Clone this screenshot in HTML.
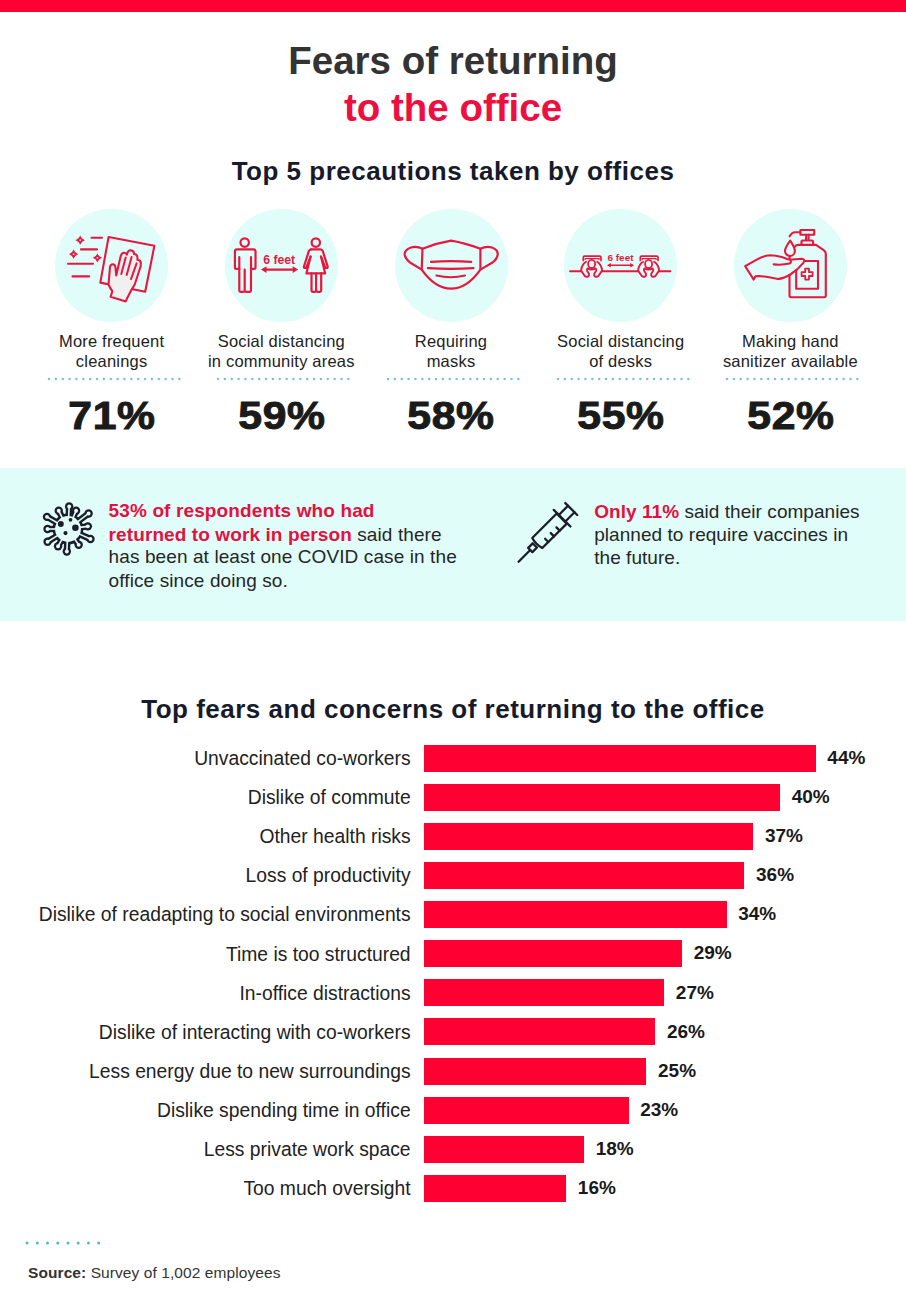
<!DOCTYPE html>
<html><head><meta charset="utf-8"><style>
html,body{margin:0;padding:0;}
body{width:906px;height:1308px;position:relative;overflow:hidden;background:#fff;font-family:"Liberation Sans",sans-serif;}
.t{position:absolute;white-space:nowrap;}
.circ{position:absolute;width:113px;height:113px;border-radius:50%;background:#e0fdf9;}
</style></head><body>
<div style="position:absolute;left:0;top:0;width:906px;height:12px;background:#ff0033"></div>
<div class="t" style="top:38.06px;font-size:38.5px;line-height:46px;font-weight:700;color:#333333;left:3.00px;width:900px;text-align:center;">Fears of returning</div>
<div class="t" style="top:85.16px;font-size:38.5px;line-height:46px;font-weight:700;color:#ec0f3f;left:3.00px;width:900px;text-align:center;">to the office</div>
<div class="t" style="top:155.69px;font-size:26px;line-height:31px;font-weight:700;color:#161b2b;letter-spacing:0.5px;left:3.00px;width:900px;text-align:center;">Top 5 precautions taken by offices</div>
<div class="circ" style="left:55.10px;top:209.2px"></div>
<svg style="position:absolute;left:55.10px;top:209.20px;overflow:visible" width="113" height="113" viewBox="0 0 113 113" ><g fill="none" stroke="#e8173f" stroke-width="2.1" stroke-linecap="round" stroke-linejoin="round"><path d="M36.5,28.8 H47 M26,40.4 H42 M13,54.8 H38 M17.5,67.4 H34.2"/><path d="M53.6,28 L99.4,36.8 L90.2,82.8 L45.3,73.6 Z"/></g><path fill="#e8173f" d="M25.2,26.6 Q26.3,30.099999999999998 29.799999999999997,31.2 Q26.3,32.3 25.2,35.8 Q24.099999999999998,32.3 20.6,31.2 Q24.099999999999998,30.099999999999998 25.2,26.6 Z M18.6,40.6 Q19.700000000000003,44.1 23.200000000000003,45.2 Q19.700000000000003,46.300000000000004 18.6,49.800000000000004 Q17.5,46.300000000000004 14.000000000000002,45.2 Q17.5,44.1 18.6,40.6 Z M42.4,44.199999999999996 Q43.5,47.699999999999996 47.0,48.8 Q43.5,49.9 42.4,53.4 Q41.3,49.9 37.8,48.8 Q41.3,47.699999999999996 42.4,44.199999999999996 Z"/><g fill="#f2f2f2"><circle cx="25.2" cy="31.2" r="0.9"/><circle cx="18.6" cy="45.2" r="0.9"/><circle cx="42.4" cy="48.8" r="0.9"/></g><path d="M55.6,87.7 L57.3,82.2 Q55,79 53.5,75.5 L55,58 Q55.5,55.2 57.8,55.2 Q60,55.3 60.4,58 L61.2,66.5 L65.6,47.5 Q66.6,43.6 69.3,43.8 Q71.3,44 71.8,45.8 Q72.8,41.3 75.8,41.3 Q79,41.5 79,45 Q82.4,45.2 82.6,49.5 L82.4,50.8 Q85.8,51 85.9,54.5 L85.6,57.5 L79.7,75.5 Q78,78.5 76.5,80.8 L72.5,88.5 L70.7,92.4 Z" fill="#f0f0f0" stroke="#e8173f" stroke-width="2.1" stroke-linejoin="round"/><path d="M66.3,65.1 L70.7,48.4 M71.7,66.1 L76.6,47.9 M76,70.1 L81.6,54.4" stroke="#e8173f" stroke-width="2" stroke-linecap="round" fill="none"/></svg>
<div class="t" style="top:331.38px;font-size:16.5px;line-height:20px;font-weight:400;color:#222;letter-spacing:0.2px;left:-338.40px;width:900px;text-align:center;">More frequent</div>
<div class="t" style="top:351.18px;font-size:16.5px;line-height:20px;font-weight:400;color:#222;letter-spacing:0.2px;left:-338.40px;width:900px;text-align:center;">cleanings</div>
<svg style="position:absolute;left:46.60px;top:377.2px" width="135" height="4" fill="#74c6d4"><circle cx="2.00" cy="2" r="1.25"/><circle cx="8.86" cy="2" r="1.25"/><circle cx="15.72" cy="2" r="1.25"/><circle cx="22.58" cy="2" r="1.25"/><circle cx="29.44" cy="2" r="1.25"/><circle cx="36.30" cy="2" r="1.25"/><circle cx="43.16" cy="2" r="1.25"/><circle cx="50.02" cy="2" r="1.25"/><circle cx="56.88" cy="2" r="1.25"/><circle cx="63.74" cy="2" r="1.25"/><circle cx="70.60" cy="2" r="1.25"/><circle cx="77.46" cy="2" r="1.25"/><circle cx="84.32" cy="2" r="1.25"/><circle cx="91.18" cy="2" r="1.25"/><circle cx="98.04" cy="2" r="1.25"/><circle cx="104.90" cy="2" r="1.25"/><circle cx="111.76" cy="2" r="1.25"/><circle cx="118.62" cy="2" r="1.25"/><circle cx="125.48" cy="2" r="1.25"/><circle cx="132.34" cy="2" r="1.25"/></svg>
<div class="t" style="top:392.31px;font-size:39.5px;line-height:47px;font-weight:700;color:#1a1a1a;letter-spacing:0.6px;left:-338.10px;width:900px;text-align:center;-webkit-text-stroke:1px #1a1a1a;transform:scaleX(1.08);transform-origin:450px 0;">71%</div>
<div class="circ" style="left:224.80px;top:209.2px"></div>
<svg style="position:absolute;left:224.80px;top:209.20px;overflow:visible" width="113" height="113" viewBox="0 0 113 113" ><g fill="none" stroke="#e8173f" stroke-width="2.2" stroke-linecap="round" stroke-linejoin="round"><circle cx="19.7" cy="33.6" r="4.2"/><path d="M14.3,48 V81.6 Q14.3,82.8 15.5,82.8 H18.5 Q19.7,82.8 19.7,81.6 V60.5 M19.7,60.5 V81.6 Q19.7,82.8 20.9,82.8 H24.8 Q26,82.8 26,81.6 V48"/><path d="M14.3,59.9 H11.3 Q9.9,59.9 9.9,58.5 V42.6 Q9.9,40.3 12.2,40.3 H28.2 Q30.5,40.3 30.5,42.6 V58.5 Q30.5,59.9 29.1,59.9 H26"/><circle cx="90.8" cy="33.6" r="4.2"/><path d="M86.3,40.3 H95.3 Q97.2,40.3 97.8,42.2 L102.6,57.4 Q103,59 101.6,59 H100.4 L96,47.6"/><path d="M86.3,40.3 Q84.4,40.3 83.8,42.2 L79,57.4 Q78.6,59 80,59 H81.2 L85.6,47.6"/><path d="M85.6,47.6 L81.4,64.4 H100.2 L96,47.6"/><path d="M86.5,64.4 V81.6 Q86.5,82.8 87.7,82.8 H89.9 Q91.1,82.8 91.1,81.6 V64.4 M91.1,64.4 V81.6 Q91.1,82.8 92.3,82.8 H95 Q96.2,82.8 96.2,81.6 V64.4"/><path d="M39,60.6 H70.2"/></g><path fill="#e8173f" d="M36,60.6 L41.5,57.3 L41.5,63.9 Z M73.2,60.6 L67.7,57.3 L67.7,63.9 Z"/><text x="54.2" y="54.8" text-anchor="middle" font-family="Liberation Sans" font-weight="700" font-size="12.2" fill="#e8173f" textLength="32" lengthAdjust="spacingAndGlyphs">6 feet</text></svg>
<div class="t" style="top:331.38px;font-size:16.5px;line-height:20px;font-weight:400;color:#222;letter-spacing:0.2px;left:-168.70px;width:900px;text-align:center;">Social distancing</div>
<div class="t" style="top:351.18px;font-size:16.5px;line-height:20px;font-weight:400;color:#222;letter-spacing:0.2px;left:-168.70px;width:900px;text-align:center;">in community areas</div>
<svg style="position:absolute;left:216.30px;top:377.2px" width="135" height="4" fill="#74c6d4"><circle cx="2.00" cy="2" r="1.25"/><circle cx="8.86" cy="2" r="1.25"/><circle cx="15.72" cy="2" r="1.25"/><circle cx="22.58" cy="2" r="1.25"/><circle cx="29.44" cy="2" r="1.25"/><circle cx="36.30" cy="2" r="1.25"/><circle cx="43.16" cy="2" r="1.25"/><circle cx="50.02" cy="2" r="1.25"/><circle cx="56.88" cy="2" r="1.25"/><circle cx="63.74" cy="2" r="1.25"/><circle cx="70.60" cy="2" r="1.25"/><circle cx="77.46" cy="2" r="1.25"/><circle cx="84.32" cy="2" r="1.25"/><circle cx="91.18" cy="2" r="1.25"/><circle cx="98.04" cy="2" r="1.25"/><circle cx="104.90" cy="2" r="1.25"/><circle cx="111.76" cy="2" r="1.25"/><circle cx="118.62" cy="2" r="1.25"/><circle cx="125.48" cy="2" r="1.25"/><circle cx="132.34" cy="2" r="1.25"/></svg>
<div class="t" style="top:392.31px;font-size:39.5px;line-height:47px;font-weight:700;color:#1a1a1a;letter-spacing:0.6px;left:-168.40px;width:900px;text-align:center;-webkit-text-stroke:1px #1a1a1a;transform:scaleX(1.08);transform-origin:450px 0;">59%</div>
<div class="circ" style="left:394.50px;top:209.2px"></div>
<svg style="position:absolute;left:394.50px;top:209.20px;overflow:visible" width="113" height="113" viewBox="0 0 113 113" ><g fill="none" stroke="#e8173f" stroke-width="2.2" stroke-linecap="round" stroke-linejoin="round"><path d="M27.5,39.8 Q42,34 56.1,31.7 Q70,34 85.4,39.8 V60.6 Q72,79.6 56.1,79.6 Q40,79.6 26.7,60.6 Z"/><path d="M27.5,39.8 Q22,37 16,38.5 Q9,41 9.7,46 Q10.5,50 15,53.5 L26.7,60.6"/><path d="M85.4,39.8 Q91,37 97,38.5 Q103.5,41 102.6,46 Q102,50 97.5,53.5 L85.4,60.6"/><path d="M36,52.9 Q56,51.5 76.2,52.9 M32.9,59.1 Q56,60.5 78.5,59.1 M41.4,66.5 Q56,70 70,66.5"/></g></svg>
<div class="t" style="top:331.38px;font-size:16.5px;line-height:20px;font-weight:400;color:#222;letter-spacing:0.2px;left:1.00px;width:900px;text-align:center;">Requiring</div>
<div class="t" style="top:351.18px;font-size:16.5px;line-height:20px;font-weight:400;color:#222;letter-spacing:0.2px;left:1.00px;width:900px;text-align:center;">masks</div>
<svg style="position:absolute;left:386.00px;top:377.2px" width="135" height="4" fill="#74c6d4"><circle cx="2.00" cy="2" r="1.25"/><circle cx="8.86" cy="2" r="1.25"/><circle cx="15.72" cy="2" r="1.25"/><circle cx="22.58" cy="2" r="1.25"/><circle cx="29.44" cy="2" r="1.25"/><circle cx="36.30" cy="2" r="1.25"/><circle cx="43.16" cy="2" r="1.25"/><circle cx="50.02" cy="2" r="1.25"/><circle cx="56.88" cy="2" r="1.25"/><circle cx="63.74" cy="2" r="1.25"/><circle cx="70.60" cy="2" r="1.25"/><circle cx="77.46" cy="2" r="1.25"/><circle cx="84.32" cy="2" r="1.25"/><circle cx="91.18" cy="2" r="1.25"/><circle cx="98.04" cy="2" r="1.25"/><circle cx="104.90" cy="2" r="1.25"/><circle cx="111.76" cy="2" r="1.25"/><circle cx="118.62" cy="2" r="1.25"/><circle cx="125.48" cy="2" r="1.25"/><circle cx="132.34" cy="2" r="1.25"/></svg>
<div class="t" style="top:392.31px;font-size:39.5px;line-height:47px;font-weight:700;color:#1a1a1a;letter-spacing:0.6px;left:1.30px;width:900px;text-align:center;-webkit-text-stroke:1px #1a1a1a;transform:scaleX(1.08);transform-origin:450px 0;">58%</div>
<div class="circ" style="left:564.20px;top:209.2px"></div>
<svg style="position:absolute;left:564.20px;top:209.20px;overflow:visible" width="113" height="113" viewBox="0 0 113 113" ><g fill="none" stroke="#e8173f" stroke-width="2" stroke-linecap="round" stroke-linejoin="round"><path d="M6.1,62.3 H17 M38.4,62.3 H74 M95.4,62.3 H106.4"/><g transform="translate(0,0)"><path d="M19.3,51.4 V48.4 Q19.3,47.1 20.6,47.1 H35.7 Q37,47.1 37,48.4 V51.4" stroke-width="1.7"/><path d="M21.2,50.4 V49.6 H35.1 V50.4" stroke-width="1.2"/><ellipse cx="27.6" cy="54.9" rx="3.5" ry="4.1" stroke-width="1.8"/><path d="M22,52.8 Q17.6,55.8 17.1,61.6 L20.8,67 Q22,68.2 24,67.6 Q25.5,66.8 25,64.8 L23.3,62.2 Q22.4,60.5 23.5,59.4 Q27.6,61.6 31.7,59.4 Q32.8,60.5 31.9,62.2 L30.2,64.8 Q29.7,66.8 31.2,67.6 Q33.2,68.2 34.4,67 L38.1,61.6 Q37.6,55.8 33.2,52.8" stroke-width="1.9"/></g><g transform="translate(57,0)"><path d="M19.3,51.4 V48.4 Q19.3,47.1 20.6,47.1 H35.7 Q37,47.1 37,48.4 V51.4" stroke-width="1.7"/><path d="M21.2,50.4 V49.6 H35.1 V50.4" stroke-width="1.2"/><ellipse cx="27.6" cy="54.9" rx="3.5" ry="4.1" stroke-width="1.8"/><path d="M22,52.8 Q17.6,55.8 17.1,61.6 L20.8,67 Q22,68.2 24,67.6 Q25.5,66.8 25,64.8 L23.3,62.2 Q22.4,60.5 23.5,59.4 Q27.6,61.6 31.7,59.4 Q32.8,60.5 31.9,62.2 L30.2,64.8 Q29.7,66.8 31.2,67.6 Q33.2,68.2 34.4,67 L38.1,61.6 Q37.6,55.8 33.2,52.8" stroke-width="1.9"/></g><path d="M45.5,56.3 H67.6" stroke-width="1.4"/></g><path fill="#e8173f" d="M42.9,56.3 L46.8,54 L46.8,58.6 Z M70.2,56.3 L66.3,54 L66.3,58.6 Z"/><text x="56.5" y="52.2" text-anchor="middle" font-family="Liberation Sans" font-weight="700" font-size="9.6" fill="#e8173f" textLength="26" lengthAdjust="spacingAndGlyphs">6 feet</text></svg>
<div class="t" style="top:331.38px;font-size:16.5px;line-height:20px;font-weight:400;color:#222;letter-spacing:0.2px;left:170.70px;width:900px;text-align:center;">Social distancing</div>
<div class="t" style="top:351.18px;font-size:16.5px;line-height:20px;font-weight:400;color:#222;letter-spacing:0.2px;left:170.70px;width:900px;text-align:center;">of desks</div>
<svg style="position:absolute;left:555.70px;top:377.2px" width="135" height="4" fill="#74c6d4"><circle cx="2.00" cy="2" r="1.25"/><circle cx="8.86" cy="2" r="1.25"/><circle cx="15.72" cy="2" r="1.25"/><circle cx="22.58" cy="2" r="1.25"/><circle cx="29.44" cy="2" r="1.25"/><circle cx="36.30" cy="2" r="1.25"/><circle cx="43.16" cy="2" r="1.25"/><circle cx="50.02" cy="2" r="1.25"/><circle cx="56.88" cy="2" r="1.25"/><circle cx="63.74" cy="2" r="1.25"/><circle cx="70.60" cy="2" r="1.25"/><circle cx="77.46" cy="2" r="1.25"/><circle cx="84.32" cy="2" r="1.25"/><circle cx="91.18" cy="2" r="1.25"/><circle cx="98.04" cy="2" r="1.25"/><circle cx="104.90" cy="2" r="1.25"/><circle cx="111.76" cy="2" r="1.25"/><circle cx="118.62" cy="2" r="1.25"/><circle cx="125.48" cy="2" r="1.25"/><circle cx="132.34" cy="2" r="1.25"/></svg>
<div class="t" style="top:392.31px;font-size:39.5px;line-height:47px;font-weight:700;color:#1a1a1a;letter-spacing:0.6px;left:171.00px;width:900px;text-align:center;-webkit-text-stroke:1px #1a1a1a;transform:scaleX(1.08);transform-origin:450px 0;">55%</div>
<div class="circ" style="left:733.90px;top:209.2px"></div>
<svg style="position:absolute;left:733.90px;top:209.20px;overflow:visible" width="113" height="113" viewBox="0 0 113 113" ><g fill="none" stroke="#e8173f" stroke-width="2.1" stroke-linecap="round" stroke-linejoin="round"><path d="M55.5,66 V86.6 Q55.5,88.2 57.1,88.2 H90.2 Q91.8,88.2 91.8,86.6 V45 Q91.8,42.6 90,41.3 L82,35.9 H64.5 Q62,35.9 60.9,37.6"/><path d="M67.5,35.9 V32.5 Q67.5,31.5 68.5,31.5 H78.1 Q79.1,31.5 79.1,32.5 V35.9 M72.1,31.5 V25.7 M74.6,31.5 V25.7"/><path d="M66.4,21 H80.2 V25.7 H66.4 Z"/><path d="M66.4,23.3 H61.2 Q57.6,23.5 55.7,27.3"/><path fill="#e0fdf9" d="M56.2,31.6 Q51,38.6 51,42 A4.95,4.95 0 0 0 60.9,42 Q60.9,38.6 56.2,31.6 Z"/><path d="M55.6,47.2 V49.6"/><rect x="62.2" y="52" width="21.8" height="27.7"/><path d="M71.2,59.6 H75 V63.2 H78.6 V67 H75 V70.6 H71.2 V67 H67.6 V63.2 H71.2 Z" stroke-width="1.8"/><path fill="#e0fdf9" d="M11.2,57.2 L22.7,50.6 Q30,46.5 36.1,46.3 Q44,46.3 53.1,50 L56,50.8 L67.5,49.8 Q71.5,50 69.6,53.6 Q64,60.5 57,65 Q50,69.5 44,70 L32.4,67.8 Q25,66.8 21.5,67.3 L19.7,70.6 Z"/><path d="M39.7,55.4 Q48,56.3 55.5,54.6 Q57.6,53.6 56.6,51.6"/></g></svg>
<div class="t" style="top:331.38px;font-size:16.5px;line-height:20px;font-weight:400;color:#222;letter-spacing:0.2px;left:340.40px;width:900px;text-align:center;">Making hand</div>
<div class="t" style="top:351.18px;font-size:16.5px;line-height:20px;font-weight:400;color:#222;letter-spacing:0.2px;left:340.40px;width:900px;text-align:center;">sanitizer available</div>
<svg style="position:absolute;left:725.40px;top:377.2px" width="135" height="4" fill="#74c6d4"><circle cx="2.00" cy="2" r="1.25"/><circle cx="8.86" cy="2" r="1.25"/><circle cx="15.72" cy="2" r="1.25"/><circle cx="22.58" cy="2" r="1.25"/><circle cx="29.44" cy="2" r="1.25"/><circle cx="36.30" cy="2" r="1.25"/><circle cx="43.16" cy="2" r="1.25"/><circle cx="50.02" cy="2" r="1.25"/><circle cx="56.88" cy="2" r="1.25"/><circle cx="63.74" cy="2" r="1.25"/><circle cx="70.60" cy="2" r="1.25"/><circle cx="77.46" cy="2" r="1.25"/><circle cx="84.32" cy="2" r="1.25"/><circle cx="91.18" cy="2" r="1.25"/><circle cx="98.04" cy="2" r="1.25"/><circle cx="104.90" cy="2" r="1.25"/><circle cx="111.76" cy="2" r="1.25"/><circle cx="118.62" cy="2" r="1.25"/><circle cx="125.48" cy="2" r="1.25"/><circle cx="132.34" cy="2" r="1.25"/></svg>
<div class="t" style="top:392.31px;font-size:39.5px;line-height:47px;font-weight:700;color:#1a1a1a;letter-spacing:0.6px;left:340.70px;width:900px;text-align:center;-webkit-text-stroke:1px #1a1a1a;transform:scaleX(1.08);transform-origin:450px 0;">52%</div>
<div style="position:absolute;left:0;top:467.5px;width:906px;height:153px;background:#e0fdf9"></div>
<svg style="position:absolute;left:38.00px;top:498.70px;overflow:visible" width="60" height="60" viewBox="0 0 60 60" ><circle cx="30" cy="30" r="15.4" fill="#1c1c2a"/><path d="M30.63,18.02 L31.18,7.53" stroke="#1c1c2a" stroke-width="6.4"/><circle cx="31.18" cy="7.53" r="4.2" fill="#1c1c2a"/><path d="M24.55,19.31 L20.74,11.82" stroke="#1c1c2a" stroke-width="6.4"/><circle cx="20.74" cy="11.82" r="4.2" fill="#1c1c2a"/><path d="M34.88,19.04 L38.09,11.82" stroke="#1c1c2a" stroke-width="6.4"/><circle cx="38.09" cy="11.82" r="4.2" fill="#1c1c2a"/><path d="M39.58,22.78 L50.60,14.47" stroke="#1c1c2a" stroke-width="6.4"/><circle cx="50.60" cy="14.47" r="4.2" fill="#1c1c2a"/><path d="M19.61,24.00 L8.96,17.85" stroke="#1c1c2a" stroke-width="6.4"/><circle cx="8.96" cy="17.85" r="4.2" fill="#1c1c2a"/><path d="M41.89,28.41 L49.82,27.35" stroke="#1c1c2a" stroke-width="6.4"/><circle cx="49.82" cy="27.35" r="4.2" fill="#1c1c2a"/><path d="M18.00,30.00 L9.50,30.00" stroke="#1c1c2a" stroke-width="6.4"/><circle cx="9.50" cy="30.00" r="4.2" fill="#1c1c2a"/><path d="M40.96,34.88 L52.47,40.01" stroke="#1c1c2a" stroke-width="6.4"/><circle cx="52.47" cy="40.01" r="4.2" fill="#1c1c2a"/><path d="M19.82,36.36 L9.56,42.77" stroke="#1c1c2a" stroke-width="6.4"/><circle cx="9.56" cy="42.77" r="4.2" fill="#1c1c2a"/><path d="M24.00,40.39 L20.05,47.23" stroke="#1c1c2a" stroke-width="6.4"/><circle cx="20.05" cy="47.23" r="4.2" fill="#1c1c2a"/><path d="M29.37,41.98 L28.82,52.47" stroke="#1c1c2a" stroke-width="6.4"/><circle cx="28.82" cy="52.47" r="4.2" fill="#1c1c2a"/><path d="M36.71,39.95 L40.68,45.83" stroke="#1c1c2a" stroke-width="6.4"/><circle cx="40.68" cy="45.83" r="4.2" fill="#1c1c2a"/><circle cx="30" cy="30" r="12.9" fill="#e0fdf9"/><path d="M30.63,18.02 L31.18,7.53" stroke="#e0fdf9" stroke-width="1.6"/><circle cx="31.18" cy="7.53" r="1.95" fill="#e0fdf9"/><path d="M24.55,19.31 L20.74,11.82" stroke="#e0fdf9" stroke-width="1.6"/><circle cx="20.74" cy="11.82" r="1.95" fill="#e0fdf9"/><path d="M34.88,19.04 L38.09,11.82" stroke="#e0fdf9" stroke-width="1.6"/><circle cx="38.09" cy="11.82" r="1.95" fill="#e0fdf9"/><path d="M39.58,22.78 L50.60,14.47" stroke="#e0fdf9" stroke-width="1.6"/><circle cx="50.60" cy="14.47" r="1.95" fill="#e0fdf9"/><path d="M19.61,24.00 L8.96,17.85" stroke="#e0fdf9" stroke-width="1.6"/><circle cx="8.96" cy="17.85" r="1.95" fill="#e0fdf9"/><path d="M41.89,28.41 L49.82,27.35" stroke="#e0fdf9" stroke-width="1.6"/><circle cx="49.82" cy="27.35" r="1.95" fill="#e0fdf9"/><path d="M18.00,30.00 L9.50,30.00" stroke="#e0fdf9" stroke-width="1.6"/><circle cx="9.50" cy="30.00" r="1.95" fill="#e0fdf9"/><path d="M40.96,34.88 L52.47,40.01" stroke="#e0fdf9" stroke-width="1.6"/><circle cx="52.47" cy="40.01" r="1.95" fill="#e0fdf9"/><path d="M19.82,36.36 L9.56,42.77" stroke="#e0fdf9" stroke-width="1.6"/><circle cx="9.56" cy="42.77" r="1.95" fill="#e0fdf9"/><path d="M24.00,40.39 L20.05,47.23" stroke="#e0fdf9" stroke-width="1.6"/><circle cx="20.05" cy="47.23" r="1.95" fill="#e0fdf9"/><path d="M29.37,41.98 L28.82,52.47" stroke="#e0fdf9" stroke-width="1.6"/><circle cx="28.82" cy="52.47" r="1.95" fill="#e0fdf9"/><path d="M36.71,39.95 L40.68,45.83" stroke="#e0fdf9" stroke-width="1.6"/><circle cx="40.68" cy="45.83" r="1.95" fill="#e0fdf9"/><g fill="#1c1c2a"><circle cx="22.799999999999997" cy="25.099999999999966" r="3"/><circle cx="37.400000000000006" cy="28.80000000000001" r="3.3"/><circle cx="32.5" cy="20.80000000000001" r="1.9"/><circle cx="27.5" cy="34.099999999999966" r="2.1"/></g></svg>
<svg style="position:absolute;left:0.00px;top:0.00px;overflow:visible" width="906" height="700" viewBox="0 0 906 700" ><g transform="translate(518.6,561.7) rotate(-45)"><g fill="none" stroke="#1c1c2a" stroke-width="2.3" stroke-linecap="round" stroke-linejoin="round"><path d="M0,0 H16.5"/><path d="M16.5,-3 H23 V3 H16.5 Z"/><path d="M26.4,-7.1 H61 V7.1 H26.4 Q24.4,0 26.4,-7.1 Z"/><path d="M61.5,-11.8 V11.8"/><path d="M61.5,-4.6 H74.5 M61.5,4.6 H74.5"/><path d="M74.5,-8.4 V8.4"/><path d="M35,7.1 V2.5 M43,7.1 V2.5 M51,7.1 V2.5"/></g></g></svg>
<div class="t" style="top:499.22px;font-size:19px;line-height:23px;font-weight:400;color:#262626;letter-spacing:0.12px;left:108.60px;"><b style="color:#e5103f">53% of respondents who had</b></div>
<div class="t" style="top:522.52px;font-size:19px;line-height:23px;font-weight:400;color:#262626;letter-spacing:0.1px;left:108.60px;"><b style="color:#e5103f">returned to work in person</b> said there</div>
<div class="t" style="top:545.32px;font-size:19px;line-height:23px;font-weight:400;color:#262626;letter-spacing:0.1px;left:108.60px;">has been at least one COVID case in the</div>
<div class="t" style="top:568.52px;font-size:19px;line-height:23px;font-weight:400;color:#262626;letter-spacing:0.1px;left:108.60px;">office since doing so.</div>
<div class="t" style="top:499.92px;font-size:19px;line-height:23px;font-weight:400;color:#262626;letter-spacing:0.05px;left:594.20px;"><b style="color:#e5103f">Only 11%</b> said their companies</div>
<div class="t" style="top:522.72px;font-size:19px;line-height:23px;font-weight:400;color:#262626;letter-spacing:0.05px;left:594.20px;">planned to require vaccines in</div>
<div class="t" style="top:545.72px;font-size:19px;line-height:23px;font-weight:400;color:#262626;letter-spacing:0.05px;left:594.20px;">the future.</div>
<div class="t" style="top:694.39px;font-size:26px;line-height:31px;font-weight:700;color:#161b2b;letter-spacing:0.5px;left:3.00px;width:900px;text-align:center;">Top fears and concerns of returning to the office</div>
<div style="position:absolute;left:423.7px;top:744.50px;width:392.04px;height:27px;background:#ff0033"></div>
<div class="t" style="top:746.91px;font-size:19.3px;line-height:23px;font-weight:400;color:#222;right:495.40px;text-align:right;">Unvaccinated co-workers</div>
<div class="t" style="top:745.72px;font-size:19px;line-height:23px;font-weight:700;color:#1a1a1a;left:827.34px;">44%</div>
<div style="position:absolute;left:423.7px;top:783.64px;width:356.40px;height:27px;background:#ff0033"></div>
<div class="t" style="top:786.05px;font-size:19.3px;line-height:23px;font-weight:400;color:#222;right:495.40px;text-align:right;">Dislike of commute</div>
<div class="t" style="top:784.86px;font-size:19px;line-height:23px;font-weight:700;color:#1a1a1a;left:791.70px;">40%</div>
<div style="position:absolute;left:423.7px;top:822.78px;width:329.67px;height:27px;background:#ff0033"></div>
<div class="t" style="top:825.19px;font-size:19.3px;line-height:23px;font-weight:400;color:#222;right:495.40px;text-align:right;">Other health risks</div>
<div class="t" style="top:824.00px;font-size:19px;line-height:23px;font-weight:700;color:#1a1a1a;left:764.97px;">37%</div>
<div style="position:absolute;left:423.7px;top:861.92px;width:320.76px;height:27px;background:#ff0033"></div>
<div class="t" style="top:864.33px;font-size:19.3px;line-height:23px;font-weight:400;color:#222;right:495.40px;text-align:right;">Loss of productivity</div>
<div class="t" style="top:863.14px;font-size:19px;line-height:23px;font-weight:700;color:#1a1a1a;left:756.06px;">36%</div>
<div style="position:absolute;left:423.7px;top:901.06px;width:302.94px;height:27px;background:#ff0033"></div>
<div class="t" style="top:903.47px;font-size:19.3px;line-height:23px;font-weight:400;color:#222;right:495.40px;text-align:right;">Dislike of readapting to social environments</div>
<div class="t" style="top:902.28px;font-size:19px;line-height:23px;font-weight:700;color:#1a1a1a;left:738.24px;">34%</div>
<div style="position:absolute;left:423.7px;top:940.20px;width:258.39px;height:27px;background:#ff0033"></div>
<div class="t" style="top:942.61px;font-size:19.3px;line-height:23px;font-weight:400;color:#222;right:495.40px;text-align:right;">Time is too structured</div>
<div class="t" style="top:941.42px;font-size:19px;line-height:23px;font-weight:700;color:#1a1a1a;left:693.69px;">29%</div>
<div style="position:absolute;left:423.7px;top:979.34px;width:240.57px;height:27px;background:#ff0033"></div>
<div class="t" style="top:981.75px;font-size:19.3px;line-height:23px;font-weight:400;color:#222;right:495.40px;text-align:right;">In-office distractions</div>
<div class="t" style="top:980.56px;font-size:19px;line-height:23px;font-weight:700;color:#1a1a1a;left:675.87px;">27%</div>
<div style="position:absolute;left:423.7px;top:1018.48px;width:231.66px;height:27px;background:#ff0033"></div>
<div class="t" style="top:1020.89px;font-size:19.3px;line-height:23px;font-weight:400;color:#222;right:495.40px;text-align:right;">Dislike of interacting with co-workers</div>
<div class="t" style="top:1019.70px;font-size:19px;line-height:23px;font-weight:700;color:#1a1a1a;left:666.96px;">26%</div>
<div style="position:absolute;left:423.7px;top:1057.62px;width:222.75px;height:27px;background:#ff0033"></div>
<div class="t" style="top:1060.03px;font-size:19.3px;line-height:23px;font-weight:400;color:#222;right:495.40px;text-align:right;">Less energy due to new surroundings</div>
<div class="t" style="top:1058.84px;font-size:19px;line-height:23px;font-weight:700;color:#1a1a1a;left:658.05px;">25%</div>
<div style="position:absolute;left:423.7px;top:1096.76px;width:204.93px;height:27px;background:#ff0033"></div>
<div class="t" style="top:1099.17px;font-size:19.3px;line-height:23px;font-weight:400;color:#222;right:495.40px;text-align:right;">Dislike spending time in office</div>
<div class="t" style="top:1097.98px;font-size:19px;line-height:23px;font-weight:700;color:#1a1a1a;left:640.23px;">23%</div>
<div style="position:absolute;left:423.7px;top:1135.90px;width:160.38px;height:27px;background:#ff0033"></div>
<div class="t" style="top:1138.31px;font-size:19.3px;line-height:23px;font-weight:400;color:#222;right:495.40px;text-align:right;">Less private work space</div>
<div class="t" style="top:1137.12px;font-size:19px;line-height:23px;font-weight:700;color:#1a1a1a;left:595.68px;">18%</div>
<div style="position:absolute;left:423.7px;top:1175.04px;width:142.56px;height:27px;background:#ff0033"></div>
<div class="t" style="top:1177.45px;font-size:19.3px;line-height:23px;font-weight:400;color:#222;right:495.40px;text-align:right;">Too much oversight</div>
<div class="t" style="top:1176.26px;font-size:19px;line-height:23px;font-weight:700;color:#1a1a1a;left:577.86px;">16%</div>
<svg style="position:absolute;left:24.7px;top:1240.6px" width="80" height="4" fill="#4fb9cc"><circle cx="2.00" cy="2" r="1.5"/><circle cx="12.24" cy="2" r="1.5"/><circle cx="22.48" cy="2" r="1.5"/><circle cx="32.72" cy="2" r="1.5"/><circle cx="42.96" cy="2" r="1.5"/><circle cx="53.20" cy="2" r="1.5"/><circle cx="63.44" cy="2" r="1.5"/><circle cx="73.68" cy="2" r="1.5"/></svg>
<div class="t" style="top:1263.33px;font-size:15.5px;line-height:19px;font-weight:400;color:#333;letter-spacing:0.08px;left:28.00px;"><b>Source:</b> Survey of 1,002 employees</div>
</body></html>
